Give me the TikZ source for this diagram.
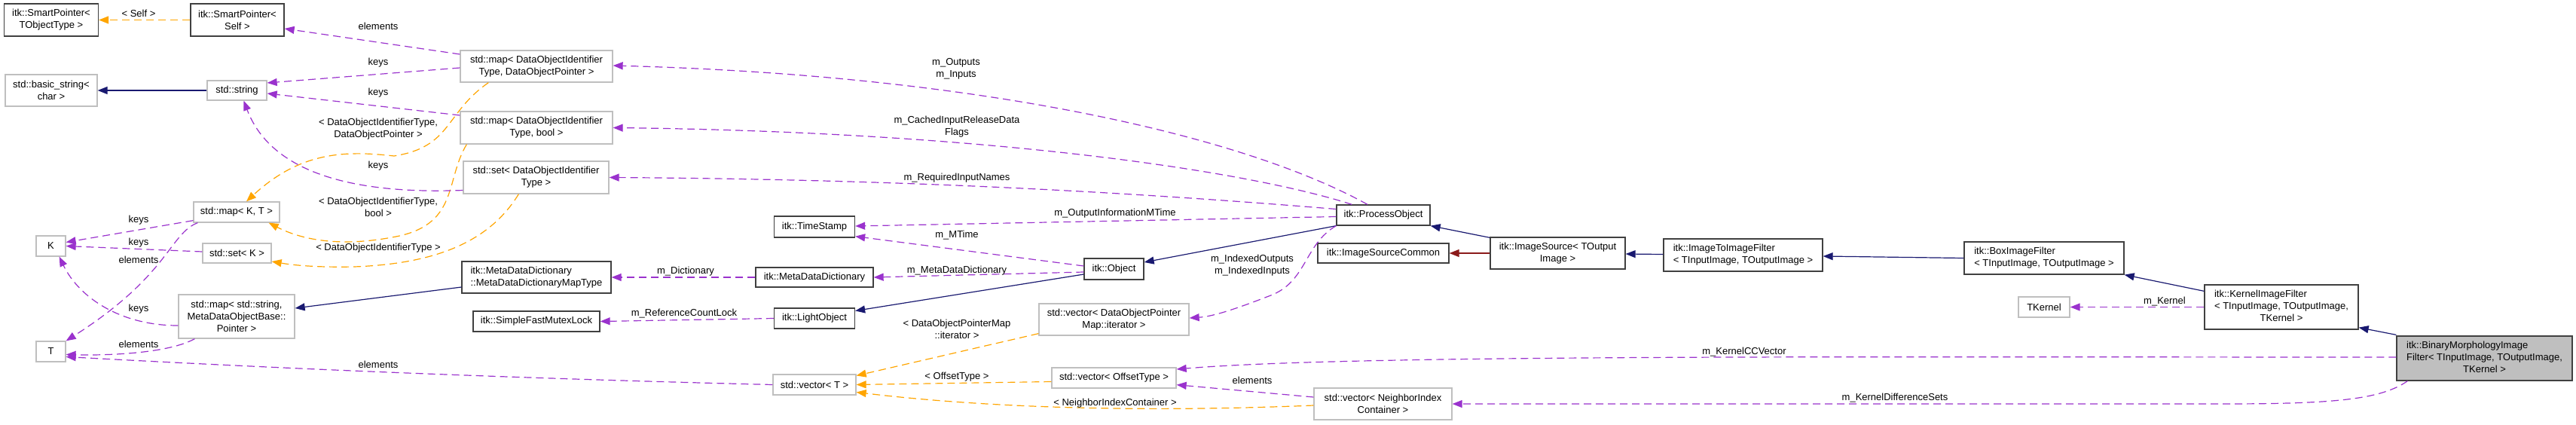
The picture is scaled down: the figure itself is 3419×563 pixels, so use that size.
\documentclass[tikz,border=0pt]{standalone}
\usepackage{fontspec}
\setmainfont{Liberation Sans}
\usetikzlibrary{arrows.meta,calc}

\definecolor{edgepurple}{HTML}{9A32CD}
\definecolor{edgeorange}{HTML}{FFA500}
\definecolor{edgenavy}{HTML}{191970}
\definecolor{edgered}{HTML}{8B1A1A}
\definecolor{boxgray}{HTML}{BFBFBF}
\definecolor{boxdark}{HTML}{404040}

\begin{document}
\begin{tikzpicture}[
    x=1pt, y=-1pt,
    font=\fontsize{13}{16}\selectfont,
    box/.style={draw=boxdark, line width=1.3pt, fill=white, inner sep=0pt, align=center},
    extbox/.style={box, draw=boxgray},
    curbox/.style={box, fill=boxgray},
    lbl/.style={inner sep=0pt, align=center},
    arr/.style={-{Triangle[length=13pt,width=10pt]}, line width=1.2pt},
    member/.style={arr, edgepurple, dash pattern=on 10pt off 6pt},
    tmpl/.style={arr, edgeorange, dash pattern=on 10pt off 6pt},
    inherit/.style={arr, edgenavy},
    priv/.style={arr, edgered}
]
    \useasboundingbox (0,0) rectangle (3419,563);

    % Left column: std and helper types
    \node[box, minimum width=125pt, minimum height=43pt] (sptobj) at (68,26.5) {itk::SmartPointer<\\TObjectType >};
    \node[box, minimum width=124pt, minimum height=43pt] (spself) at (315,26.5) {itk::SmartPointer<\\Self >};
    \node[extbox, minimum width=122pt, minimum height=42pt] (bstring) at (68,120) {std::basic\_string<\\char >};
    \node[extbox, minimum width=79pt, minimum height=26pt] (string) at (314.5,120) {std::string};
    \node[extbox, minimum width=114pt, minimum height=27pt] (mapkt) at (314,281.5) {std::map< K, T >};
    \node[extbox, minimum width=39pt, minimum height=27pt] (kk) at (67.5,326.5) {K};
    \node[extbox, minimum width=91pt, minimum height=26pt] (setk) at (314.5,336) {std::set< K >};
    \node[extbox, minimum width=154pt, minimum height=58pt] (mapstr) at (314,420) {std::map< std::string,\\MetaDataObjectBase::\\Pointer >};
    \node[extbox, minimum width=39pt, minimum height=27pt] (tt) at (67.5,466.5) {T};

    % Containers used by ProcessObject
    \node[extbox, minimum width=202pt, minimum height=42pt] (mapdop) at (712,88) {std::map< DataObjectIdentifier\\Type, DataObjectPointer >};
    \node[extbox, minimum width=202pt, minimum height=43pt] (mapbool) at (712,169.5) {std::map< DataObjectIdentifier\\Type, bool >};
    \node[extbox, minimum width=193pt, minimum height=43pt] (setid) at (711.5,235.5) {std::set< DataObjectIdentifier\\Type >};
    \node[box, minimum width=198pt, minimum height=42pt, align=left] (mddmap) at (712,368) {itk::MetaDataDictionary\\::MetaDataDictionaryMapType};
    \node[box, minimum width=168pt, minimum height=27pt] (mutex) at (712,426.5) {itk::SimpleFastMutexLock};

    % Object hierarchy
    \node[box, minimum width=107pt, minimum height=28pt] (tstamp) at (1081,301) {itk::TimeStamp};
    \node[box, minimum width=156pt, minimum height=26pt] (mdd) at (1081,368) {itk::MetaDataDictionary};
    \node[box, minimum width=107pt, minimum height=27pt] (lobj) at (1081,422.5) {itk::LightObject};
    \node[extbox, minimum width=110pt, minimum height=27pt] (vect) at (1081,510.5) {std::vector< T >};
    \node[box, minimum width=79pt, minimum height=28pt] (object) at (1478.5,357) {itk::Object};
    \node[extbox, minimum width=199pt, minimum height=42pt] (vecit) at (1478.5,424) {std::vector< DataObjectPointer\\Map::iterator >};
    \node[extbox, minimum width=165pt, minimum height=27pt] (vecoff) at (1478.5,501.5) {std::vector< OffsetType >};
    \node[box, minimum width=124pt, minimum height=27pt] (procobj) at (1836,285.5) {itk::ProcessObject};
    \node[box, minimum width=174pt, minimum height=26pt] (iscommon) at (1836,336) {itk::ImageSourceCommon};
    \node[extbox, minimum width=183pt, minimum height=42pt] (vecnic) at (1835.5,536) {std::vector< NeighborIndex\\Container >};

    % Filter chain
    \node[box, minimum width=179pt, minimum height=42pt] (isource) at (2067.5,336) {itk::ImageSource< TOutput\\Image >};
    \node[box, minimum width=211pt, minimum height=43pt, align=left] (i2i) at (2313.5,338.5) {itk::ImageToImageFilter\\< TInputImage, TOutputImage >};
    \node[box, minimum width=212pt, minimum height=43pt, align=left] (boxf) at (2713,342.5) {itk::BoxImageFilter\\< TInputImage, TOutputImage >};
    \node[extbox, minimum width=68pt, minimum height=27pt] (tkernel) at (2713,407.5) {TKernel};
    \node[box, minimum width=204pt, minimum height=59pt] (kernelf) at (3028,407.5)
        {\begin{tabular}{@{}l@{}}itk::KernelImageFilter\\< TInputImage, TOutputImage,\\\multicolumn{1}{@{}c@{}}{TKernel >}\end{tabular}};
    \node[curbox, minimum width=233pt, minimum height=59pt] (binmorph) at (3297.5,475.5)
        {\begin{tabular}{@{}l@{}}itk::BinaryMorphologyImage\\Filter< TInputImage, TOutputImage,\\\multicolumn{1}{@{}c@{}}{TKernel >}\end{tabular}};

    % Inheritance
    \draw[inherit] (string.west) -- (bstring.east);
    \draw[inherit] ($(mddmap.west)+(0,13)$) -- ($(mapstr.east)+(0,-11)$);
    \draw[inherit] ($(object.west)+(0,7)$) -- ($(lobj.east)+(0,-10)$);
    \draw[inherit] (procobj.south west) -- ($(object.east)+(0,-9)$);
    \draw[inherit] ($(isource.north west)+(0,1)$) -- (procobj.south east);
    \draw[priv] (isource.west) -- (iscommon.east);
    \draw[inherit] ($(i2i.west)+(0,-1)$) -- ($(isource.east)+(0,1)$);
    \draw[inherit] (boxf.west) -- ($(i2i.east)+(0,1.5)$);
    \draw[inherit] ($(kernelf.north west)+(0,9)$) -- (boxf.south east);
    \draw[inherit] ($(binmorph.north west)+(0,-1)$) -- ($(kernelf.south east)+(0,-3)$);

    % Template instances
    \draw[tmpl] (spself.west) -- (sptobj.east);
    \node[lbl] (lself) at (184,18) {< Self >};
    \draw[tmpl] ($(mapdop.south west)+(38,0)$) .. controls (590,150) and (600,195) .. (523,207)
        .. controls (460,200) and (400,200) .. ($(mapkt.north)+(13,0)$);
    \node[lbl] (lmapdop) at (502,171) {< DataObjectIdentifierType,\\DataObjectPointer >};
    \draw[tmpl] ($(mapbool.south west)+(9,0)$) .. controls (590,240) and (610,300) .. (520,315)
        .. controls (450,328) and (400,318) .. ($(mapkt.south east)+(-15,0)$);
    \node[lbl] (lmapbool) at (502,275) {< DataObjectIdentifierType,\\bool >};
    \draw[tmpl] ($(setid.south west)+(74,0)$) .. controls (650,320) and (580,350) .. (470,354)
        .. controls (420,355) and (390,352) .. ($(setk.east)+(0,11)$);
    \node[lbl] (lsetid) at (502,329) {< DataObjectIdentifierType >};
    \draw[tmpl] ($(vecit.south west)+(0,-3)$) -- ($(vect.east)+(0,-12)$);
    \node[lbl] (lvecit) at (1270,437) {< DataObjectPointerMap\\::iterator >};
    \draw[tmpl] ($(vecoff.west)+(0,5)$) -- (vect.east);
    \node[lbl] (lvecoff) at (1270,500) {< OffsetType >};
    \draw[tmpl] ($(vecnic.west)+(0,2)$) .. controls (1500,548) and (1300,540) .. ($(vect.east)+(0,10)$);
    \node[lbl] (lvecnic) at (1480,535) {< NeighborIndexContainer >};

    % Members
    \draw[member] ($(mapdop.west)+(0,-16)$) -- ($(spself.east)+(0,11.5)$);
    \node[lbl] (lel1) at (502,35) {elements};
    \draw[member] ($(mapdop.west)+(0,2)$) -- ($(string.east)+(0,-10)$);
    \node[lbl] (lkey1) at (502,83) {keys};
    \draw[member] ($(mapbool.west)+(0,-16.5)$) -- ($(string.east)+(0,4)$);
    \node[lbl] (lkey2) at (502,123) {keys};
    \draw[member] ($(setid.west)+(0,17)$) .. controls (470,258) and (360,230) .. ($(string.south)+(9,0)$);
    \node[lbl] (lkey3) at (502,220) {keys};
    \draw[member] ($(mapkt.south west)+(0,-3)$) -- ($(kk.east)+(0,-5)$);
    \node[lbl] (lkey4) at (184,292) {keys};
    \draw[member] ($(setk.west)+(0,-2)$) -- (kk.east);
    \node[lbl] (lkey5) at (184,322) {keys};
    \draw[member] ($(mapkt.south west)+(6,0)$) .. controls (225,310) and (225,365) .. (tt.north east);
    \node[lbl] (lel2) at (184,345) {elements};
    \draw[member] ($(mapstr.west)+(0,12)$) .. controls (160,432) and (105,395) .. ($(kk.south east)+(-9,0)$);
    \node[lbl] (lkey6) at (184,410) {keys};
    \draw[member] ($(mapstr.south west)+(22,0)$) .. controls (225,468) and (150,472) .. ($(tt.east)+(0,4)$);
    \node[lbl] (lel3) at (184,457) {elements};
    \draw[member] (vect.west) .. controls (600,500) and (300,485) .. ($(tt.east)+(0,7)$);
    \node[lbl] (lel4) at (502,484) {elements};
    \draw[member] (mdd.west) -- (mddmap.east);
    \node[lbl] (ldict) at (910,360) {m\_Dictionary};
    \draw[member] (lobj.west) -- (mutex.east);
    \node[lbl] (llock) at (908,416) {m\_ReferenceCountLock};
    \draw[member] ($(procobj.north)+(-21,0)$) .. controls (1650,180) and (1300,100) .. ($(mapdop.east)+(0,-1)$);
    \node[lbl] (lio) at (1269,91) {m\_Outputs\\m\_Inputs};
    \draw[member] ($(procobj.north west)+(21,0)$) .. controls (1650,225) and (1300,175) .. (mapbool.east);
    \node[lbl] (lcached) at (1270,168) {m\_CachedInputReleaseData\\Flags};
    \draw[member] ($(procobj.west)+(0,-8)$) .. controls (1500,255) and (1200,238) .. (setid.east);
    \node[lbl] (lreq) at (1270,236) {m\_RequiredInputNames};
    \draw[member] ($(procobj.west)+(0,2)$) -- ($(tstamp.east)+(0,-1)$);
    \node[lbl] (loutmt) at (1480,283) {m\_OutputInformationMTime};
    \draw[member] ($(object.west)+(0,-4)$) -- ($(tstamp.south east)+(0,-2)$);
    \node[lbl] (lmtime) at (1270,312) {m\_MTime};
    \draw[member] ($(object.west)+(0,4)$) -- (mdd.east);
    \node[lbl] (lmdd) at (1270,359) {m\_MetaDataDictionary};
    \draw[member] (procobj.south west) .. controls (1730,325) and (1735,375) .. (1684,393)
        .. controls (1640,410) and (1610,420) .. ($(vecit.east)+(0,-2)$);
    \node[lbl] (lindexed) at (1662,352) {m\_IndexedOutputs\\m\_IndexedInputs};
    \draw[member] ($(vecnic.west)+(0,-9)$) -- ($(vecoff.south east)+(0,-5)$);
    \node[lbl] (lel5) at (1662,505) {elements};
    \draw[member] ($(binmorph.west)+(0,-1.5)$) .. controls (2500,474) and (1800,470) .. ($(vecoff.east)+(0,-11.5)$);
    \node[lbl] (lccvec) at (2315,467) {m\_KernelCCVector};
    \draw[member] ($(binmorph.south west)+(15,0)$) .. controls (3160,530) and (3100,536) .. (2950,536) -- (vecnic.east);
    \node[lbl] (ldiff) at (2515,528) {m\_KernelDifferenceSets};
    \draw[member] (kernelf.west) -- (tkernel.east);
    \node[lbl] (lkernel) at (2873,400) {m\_Kernel};
\end{tikzpicture}
\end{document}
